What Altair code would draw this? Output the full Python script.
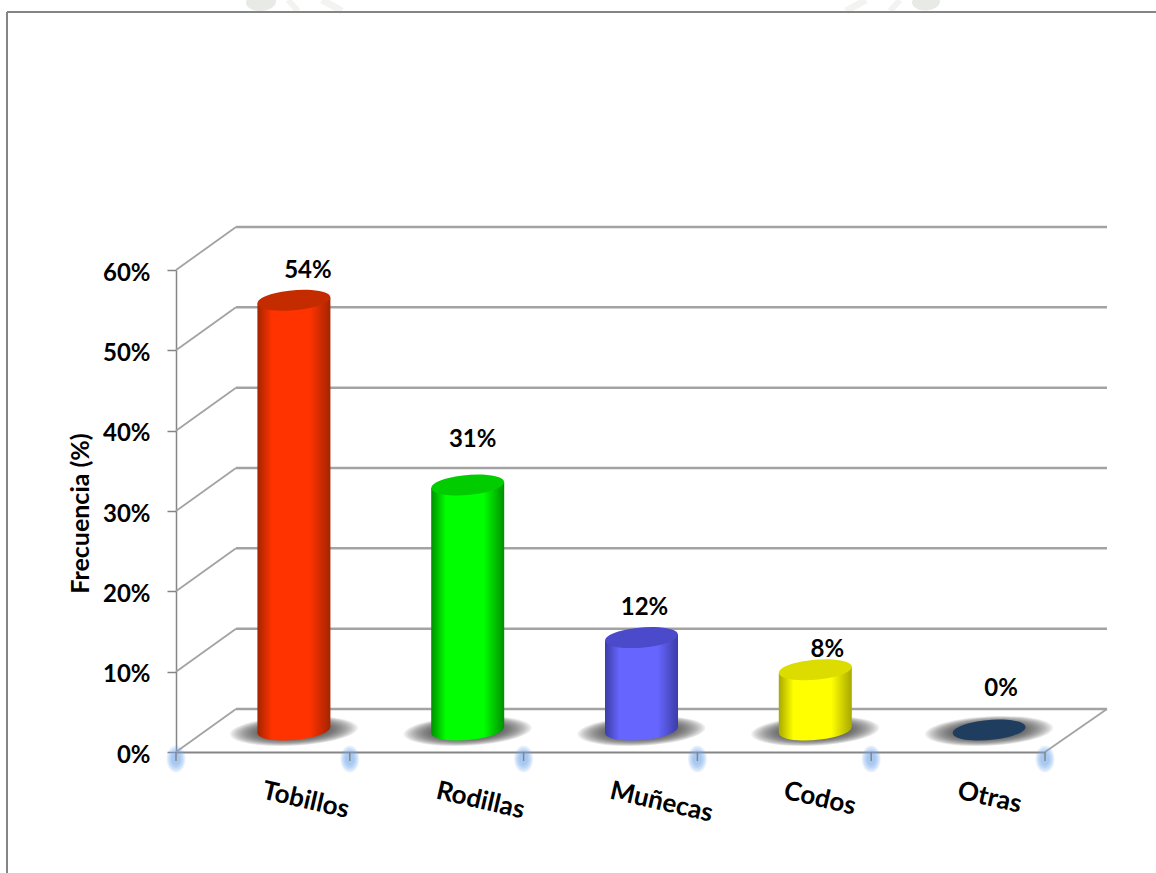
import altair as alt
import pandas as pd

# Share of injuries by joint
CATEGORIES = ["Tobillos", "Rodillas", "Muñecas", "Codos", "Otras"]
VALUES = [54, 31, 12, 8, 0]
AXIS_VALUES = [0, 10, 20, 30, 40, 50, 60]

# Plot area = front plane of the pseudo-3D box
PLOT_W, PLOT_H = 869, 482
BAND = PLOT_W / len(CATEGORIES)
DEPTH_X, DEPTH_Y = 60, 43
FONT = "Lato"
WALL = "#a3a3a3"
FRAME = "#858585"
FAINT = "#f3f4f1"

# Cylinder colouring per category: edge, bright centre, cap
PALETTE = {
    "Tobillos": ("#a32400", "#ff3300", "#c42c00"),
    "Rodillas": ("#008f00", "#00ff00", "#00cc00"),
    "Muñecas": ("#3c3ca8", "#6666ff", "#4a4acb"),
    "Codos": ("#a8a800", "#ffff00", "#dcdc00"),
    "Otras": ("#1f3d5f", "#1f3d5f", "#1f3d5f"),
}
# Hand-placed value labels: offset from the band centre and from the value height
LABEL_NUDGE = {
    "Tobillos": (45, -47),
    "Rodillas": (36, -63),
    "Muñecas": (34, -48),
    "Codos": (43, -38),
    "Otras": (43, -63),
}

CYL_W = 73
CYL_X = 31
ELLIPSE = "M-0.996,0.087A1,0.27,-5,1,1,0.996,-0.087A1,0.27,-5,1,1,-0.996,0.087Z"
SHADOW = "M-0.999,0.05A1,0.23,-3,1,1,0.999,-0.05A1,0.23,-3,1,1,-0.999,0.05Z"
BLOB = "M-0.999,0.05A1,0.6,-3,1,1,0.999,-0.05A1,0.6,-3,1,1,-0.999,0.05Z"
GLOW_SHAPE = "M0,-1A0.7,1,0,1,1,0,1A0.7,1,0,1,1,0,-1Z"

data = pd.DataFrame({"cat": CATEGORIES, "v": VALUES})
grid = pd.DataFrame({"v": AXIS_VALUES})
one = grid.head(1)

x_enc = alt.X(
    "cat:N",
    sort=CATEGORIES,
    scale=alt.Scale(domain=CATEGORIES, paddingInner=0, paddingOuter=0),
    axis=alt.Axis(
        title=None,
        ticks=False,
        domainColor=FRAME,
        domainWidth=2,
        labelAngle=13,
        labelAlign="left",
        labelBaseline="middle",
        labelPadding=38,
        labelFont=FONT,
        labelFontSize=26,
        labelFontWeight="bold",
        labelColor="black",
        grid=False,
    ),
)
y_enc = alt.Y(
    "v:Q",
    scale=alt.Scale(domain=[0, 60]),
    axis=alt.Axis(
        values=AXIS_VALUES,
        labelExpr="datum.value + '%'",
        title="Frecuencia (%)",
        titleFont=FONT,
        titleFontSize=25,
        titleFontWeight="bold",
        titleColor="black",
        titleX=-83,
        titleY=243,
        labelFont=FONT,
        labelFontSize=24,
        labelFontWeight="bold",
        labelColor="black",
        labelPadding=17,
        labelOffset=3,
        tickSize=9,
        tickColor=FRAME,
        tickWidth=1.5,
        domainColor=FRAME,
        domainWidth=1.5,
        grid=False,
    ),
)


def linear(edge, mid, x1, x2):
    """Horizontal shading that wraps around a cylinder."""
    return alt.LinearGradient(
        gradient="linear",
        x1=x1, x2=x2, y1=0, y2=0,
        stops=[
            alt.GradientStop(offset=0, color=edge),
            alt.GradientStop(offset=0.2, color=mid),
            alt.GradientStop(offset=0.72, color=mid),
            alt.GradientStop(offset=1, color=edge),
        ],
    )


layers = []

# Faint page ornament showing above the frame
for px, width in ((261, 30), (926, 28)):
    layers.append(
        alt.Chart(one).mark_point(
            shape=BLOB, size=width ** 2, filled=True, opacity=1,
            strokeWidth=0, fill="#e8ebe5",
        ).encode(x=alt.value(px - 176), y=alt.value(2 - 270))
    )
for px0, px1, width in ((288, 298, 6), (322, 342, 7), (866, 846, 7), (900, 890, 6)):
    layers.append(
        alt.Chart(one).mark_rule(color=FAINT, strokeWidth=width).encode(
            x=alt.value(px0 - 176), x2=alt.value(px1 - 176),
            y=alt.value(-270), y2=alt.value(-259),
        )
    )

# Page frame around the figure
layers.append(
    alt.Chart(one).mark_rule(color=FRAME, strokeWidth=2).encode(
        x=alt.value(-169), y=alt.value(-258), y2=alt.value(603)
    )
)
layers.append(
    alt.Chart(one).mark_rule(color=FRAME, strokeWidth=2).encode(
        x=alt.value(-169), x2=alt.value(980), y=alt.value(-258)
    )
)

# Back wall gridlines
layers.append(
    alt.Chart(grid).mark_rule(color=WALL, strokeWidth=2.5, yOffset=-DEPTH_Y).encode(
        x=alt.value(DEPTH_X), x2=alt.value(PLOT_W + DEPTH_X + 2), y=y_enc
    )
)
# Side wall diagonals
layers.append(
    alt.Chart(grid).mark_rule(color=WALL, strokeWidth=1.8, y2Offset=-DEPTH_Y).encode(
        x=alt.value(0), x2=alt.value(DEPTH_X), y=y_enc, y2=alt.Y2("v")
    )
)
# Right edge of the floor
layers.append(
    alt.Chart(one).mark_rule(color=WALL, strokeWidth=1.8, y2Offset=-DEPTH_Y).encode(
        x=alt.value(PLOT_W), x2=alt.value(PLOT_W + DEPTH_X + 2), y=y_enc, y2=alt.Y2("v")
    )
)

# Glowing tick marks on the category boundaries
for offset, subset in ((-BAND / 2, data.head(1)), (BAND / 2, data)):
    for height in (27, 24, 21, 18, 15, 12):
        layers.append(
            alt.Chart(subset).mark_point(
                shape=GLOW_SHAPE, size=height ** 2, filled=True, opacity=0.15, strokeWidth=0,
                fill="#6fa5e8", xOffset=offset, yOffset=7,
            ).encode(x=x_enc, y=alt.value(PLOT_H))
        )
    layers.append(
        alt.Chart(subset).mark_rule(color=FRAME, strokeWidth=1.5, xOffset=offset).encode(
            x=x_enc, y=alt.value(PLOT_H), y2=alt.value(PLOT_H + 9)
        )
    )

# Floor shadows and cylinders
for cat, value in zip(CATEGORIES, VALUES):
    row = data[data["cat"] == cat]
    edge, mid, cap = PALETTE[cat]
    for width in range(128, 64, -4):
        layers.append(
            alt.Chart(row).mark_point(
                shape=SHADOW, size=width ** 2, filled=True, opacity=0.09, strokeWidth=0,
                fill="#444444", xOffset=CYL_X, yOffset=-21,
            ).encode(x=x_enc, y=alt.value(PLOT_H))
        )
    base_fill = linear(edge, mid, 0, 1) if value > 0 else cap
    layers.append(
        alt.Chart(row).mark_point(
            shape=ELLIPSE, size=CYL_W ** 2, filled=True, opacity=1, strokeWidth=0,
            fill=base_fill, xOffset=CYL_X, yOffset=-22,
        ).encode(x=x_enc, y=alt.value(PLOT_H))
    )
    if value > 0:
        # Two half-width bars follow the tilt of the end caps; the left one
        # runs a pixel past the middle so no seam shows between them.
        half = CYL_W / 2
        for size, shift, x1, x2, tilt in (
            (half + 1, -CYL_W / 4 + 0.5, 0, CYL_W / (half + 1), 3),
            (half, CYL_W / 4, -1, 1, -3),
        ):
            layers.append(
                alt.Chart(row).mark_bar(
                    size=size,
                    fill=linear(edge, mid, x1, x2),
                    xOffset=CYL_X + shift,
                    yOffset=-18 + tilt,
                    y2Offset=-22 + tilt,
                ).encode(x=x_enc, y=y_enc, y2=alt.Y2(datum=0))
            )
        layers.append(
            alt.Chart(row).mark_point(
                shape=ELLIPSE, size=CYL_W ** 2, filled=True, opacity=1, strokeWidth=0,
                fill=cap, xOffset=CYL_X, yOffset=-18,
            ).encode(x=x_enc, y=y_enc)
        )
    dx, dy = LABEL_NUDGE[cat]
    layers.append(
        alt.Chart(row).transform_calculate(label="datum.v + '%'").mark_text(
            font=FONT, fontSize=24, fontWeight="bold", color="black",
            dx=dx, dy=dy, baseline="middle", align="center",
        ).encode(x=x_enc, y=y_enc, text="label:N")
    )

chart = (
    alt.layer(*layers)
    .properties(
        width=PLOT_W,
        height=PLOT_H,
        padding={"left": 176, "top": 270, "right": 111, "bottom": 121},
        autosize=alt.AutoSizeParams(type="none"),
        background="white",
    )
    .configure_view(stroke=None)
)

chart.save("out.html", embed_options={"renderer": "svg", "actions": False})
